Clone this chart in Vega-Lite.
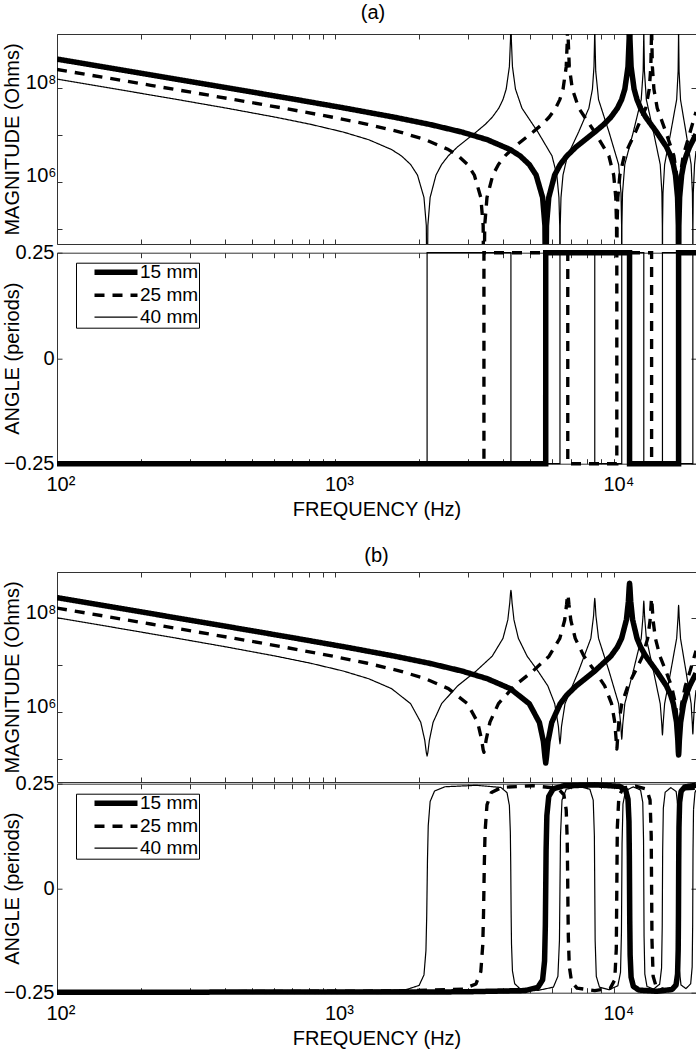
{
"$schema":"https://vega.github.io/schema/vega-lite/v6.json",
"padding":{"left":1,"top":2,"right":0,"bottom":0},
"config":{
 "font":"Liberation Sans",
 "view":{"stroke":null},
 "axis":{"labelFont":"Liberation Sans","titleFont":"Liberation Sans","labelFontSize":20,"titleFontSize":20,"titleFontWeight":"normal","labelColor":"#000","titleColor":"#000","domainColor":"#333","tickColor":"#333","domainWidth":1,"tickWidth":1,"tickSize":-5,"grid":false,"labelFlush":false,"labelOverlap":false,"labelBound":false},
 "title":{"font":"Liberation Sans","fontSize":20,"fontWeight":"normal","color":"#000","anchor":"middle","frame":"group","baseline":"alphabetic"}
},
"datasets":{
"magA":[
{"f":100,"v":4.163e8,"L":"15 mm"},{"f":181.0,"v":2.298e8,"L":"15 mm"},{"f":362.0,"v":1.146e8,"L":"15 mm"},{"f":724.0,"v":5.673e7,"L":"15 mm"},{"f":1086.1,"v":3.717e7,"L":"15 mm"},{"f":1629.1,"v":2.381e7,"L":"15 mm"},{"f":2172.1,"v":1.681e7,"L":"15 mm"},{"f":2843.3,"v":1.150e7,"L":"15 mm"},{"f":3511.6,"v":7.880e6,"L":"15 mm"},{"f":4238.6,"v":4.862e6,"L":"15 mm"},{"f":4600.6,"v":3.558e6,"L":"15 mm"},{"f":4962.6,"v":2.332e6,"L":"15 mm"},{"f":5252.2,"v":1.387e6,"L":"15 mm"},{"f":5541.8,"v":4.603e5,"L":"15 mm"},{"f":5650.4,"v":1.150e5,"L":"15 mm"},{"f":5686.7,"v":1e3,"L":"15 mm"},{"f":5722.9,"v":1.150e5,"L":"15 mm"},{"f":5831.5,"v":4.603e5,"L":"15 mm"},{"f":6121.1,"v":1.387e6,"L":"15 mm"},{"f":6410.7,"v":2.332e6,"L":"15 mm"},{"f":6772.7,"v":3.558e6,"L":"15 mm"},{"f":7315.7,"v":5.556e6,"L":"15 mm"},{"f":8530.0,"v":1.150e7,"L":"15 mm"},{"f":9201.2,"v":1.681e7,"L":"15 mm"},{"f":9744.2,"v":2.381e7,"L":"15 mm"},{"f":10287.3,"v":3.717e7,"L":"15 mm"},{"f":10649.3,"v":5.673e7,"L":"15 mm"},{"f":10938.9,"v":9.537e7,"L":"15 mm"},{"f":11228.5,"v":2.873e8,"L":"15 mm"},{"f":11337.1,"v":1.150e9,"L":"15 mm"},{"f":11373.3,"v":1e11,"L":"15 mm"},{"f":11409.5,"v":1.150e9,"L":"15 mm"},{"f":11518.1,"v":2.873e8,"L":"15 mm"},{"f":11807.7,"v":9.537e7,"L":"15 mm"},{"f":12097.3,"v":5.673e7,"L":"15 mm"},{"f":12459.3,"v":3.717e7,"L":"15 mm"},{"f":13002.4,"v":2.381e7,"L":"15 mm"},{"f":14216.5,"v":1.150e7,"L":"15 mm"},{"f":15430.7,"v":5.556e6,"L":"15 mm"},{"f":15973.7,"v":3.558e6,"L":"15 mm"},{"f":16335.7,"v":2.332e6,"L":"15 mm"},{"f":16625.4,"v":1.387e6,"L":"15 mm"},{"f":16915.0,"v":4.603e5,"L":"15 mm"},{"f":17023.6,"v":1.150e5,"L":"15 mm"},{"f":17059.8,"v":1e3,"L":"15 mm"},{"f":17096.0,"v":1.150e5,"L":"15 mm"},{"f":17204.6,"v":4.603e5,"L":"15 mm"},{"f":17494.2,"v":1.387e6,"L":"15 mm"},{"f":17783.9,"v":2.332e6,"L":"15 mm"},{"f":18145.9,"v":3.558e6,"L":"15 mm"},{"f":18688.9,"v":5.556e6,"L":"15 mm"},{"f":19700,"v":1.028e7,"L":"15 mm"},
{"f":100,"v":2.496e8,"L":"25 mm"},{"f":217.2,"v":1.146e8,"L":"25 mm"},{"f":434.4,"v":5.673e7,"L":"25 mm"},{"f":651.6,"v":3.717e7,"L":"25 mm"},{"f":977.4,"v":2.381e7,"L":"25 mm"},{"f":1303.3,"v":1.681e7,"L":"25 mm"},{"f":1706.0,"v":1.150e7,"L":"25 mm"},{"f":2107.0,"v":7.880e6,"L":"25 mm"},{"f":2543.1,"v":4.862e6,"L":"25 mm"},{"f":2760.3,"v":3.558e6,"L":"25 mm"},{"f":2977.5,"v":2.332e6,"L":"25 mm"},{"f":3151.3,"v":1.387e6,"L":"25 mm"},{"f":3325.1,"v":4.603e5,"L":"25 mm"},{"f":3390.3,"v":1.150e5,"L":"25 mm"},{"f":3412.0,"v":1e3,"L":"25 mm"},{"f":3433.7,"v":1.150e5,"L":"25 mm"},{"f":3498.9,"v":4.603e5,"L":"25 mm"},{"f":3672.6,"v":1.387e6,"L":"25 mm"},{"f":3846.4,"v":2.332e6,"L":"25 mm"},{"f":4063.6,"v":3.558e6,"L":"25 mm"},{"f":4389.4,"v":5.556e6,"L":"25 mm"},{"f":5118.0,"v":1.150e7,"L":"25 mm"},{"f":5520.7,"v":1.681e7,"L":"25 mm"},{"f":5846.5,"v":2.381e7,"L":"25 mm"},{"f":6172.3,"v":3.717e7,"L":"25 mm"},{"f":6389.5,"v":5.673e7,"L":"25 mm"},{"f":6563.3,"v":9.537e7,"L":"25 mm"},{"f":6737.1,"v":2.873e8,"L":"25 mm"},{"f":6802.2,"v":1.150e9,"L":"25 mm"},{"f":6824.0,"v":1e11,"L":"25 mm"},{"f":6845.6,"v":1.150e9,"L":"25 mm"},{"f":6910.8,"v":2.873e8,"L":"25 mm"},{"f":7084.6,"v":9.537e7,"L":"25 mm"},{"f":7475.6,"v":3.717e7,"L":"25 mm"},{"f":8530.0,"v":1.150e7,"L":"25 mm"},{"f":9584.4,"v":3.558e6,"L":"25 mm"},{"f":9975.3,"v":1.387e6,"L":"25 mm"},{"f":10149.1,"v":4.603e5,"L":"25 mm"},{"f":10214.3,"v":1.150e5,"L":"25 mm"},{"f":10236.0,"v":1e3,"L":"25 mm"},{"f":10257.5,"v":1.150e5,"L":"25 mm"},{"f":10322.7,"v":4.603e5,"L":"25 mm"},{"f":10496.5,"v":1.387e6,"L":"25 mm"},{"f":10887.5,"v":3.558e6,"L":"25 mm"},{"f":11941.8,"v":1.150e7,"L":"25 mm"},{"f":12996.1,"v":3.717e7,"L":"25 mm"},{"f":13387.1,"v":9.537e7,"L":"25 mm"},{"f":13560.9,"v":2.873e8,"L":"25 mm"},{"f":13626.0,"v":1.150e9,"L":"25 mm"},{"f":13647.7,"v":1e11,"L":"25 mm"},{"f":13669.5,"v":1.150e9,"L":"25 mm"},{"f":13734.6,"v":2.873e8,"L":"25 mm"},{"f":13908.4,"v":9.537e7,"L":"25 mm"},{"f":14299.4,"v":3.717e7,"L":"25 mm"},{"f":15353.7,"v":1.150e7,"L":"25 mm"},{"f":16408.0,"v":3.558e6,"L":"25 mm"},{"f":16799.0,"v":1.387e6,"L":"25 mm"},{"f":16972.8,"v":4.603e5,"L":"25 mm"},{"f":17037.9,"v":1.150e5,"L":"25 mm"},{"f":17059.7,"v":1e3,"L":"25 mm"},{"f":17081.6,"v":1.150e5,"L":"25 mm"},{"f":17146.7,"v":4.603e5,"L":"25 mm"},{"f":17320.5,"v":1.387e6,"L":"25 mm"},{"f":17711.5,"v":3.558e6,"L":"25 mm"},{"f":18765.8,"v":1.150e7,"L":"25 mm"},{"f":19700,"v":3.099e7,"L":"25 mm"},
{"f":100,"v":1.558e8,"L":"40 mm"},{"f":135.8,"v":1.146e8,"L":"40 mm"},{"f":271.5,"v":5.673e7,"L":"40 mm"},{"f":407.3,"v":3.717e7,"L":"40 mm"},{"f":610.9,"v":2.381e7,"L":"40 mm"},{"f":814.6,"v":1.681e7,"L":"40 mm"},{"f":1066.3,"v":1.150e7,"L":"40 mm"},{"f":1316.9,"v":7.880e6,"L":"40 mm"},{"f":1589.5,"v":4.862e6,"L":"40 mm"},{"f":1725.2,"v":3.558e6,"L":"40 mm"},{"f":1861.0,"v":2.332e6,"L":"40 mm"},{"f":1969.6,"v":1.387e6,"L":"40 mm"},{"f":2078.2,"v":4.603e5,"L":"40 mm"},{"f":2118.9,"v":1.150e5,"L":"40 mm"},{"f":2132.5,"v":1e3,"L":"40 mm"},{"f":2146.1,"v":1.150e5,"L":"40 mm"},{"f":2186.8,"v":4.603e5,"L":"40 mm"},{"f":2295.4,"v":1.387e6,"L":"40 mm"},{"f":2404.0,"v":2.332e6,"L":"40 mm"},{"f":2539.8,"v":3.558e6,"L":"40 mm"},{"f":2743.4,"v":5.556e6,"L":"40 mm"},{"f":3198.8,"v":1.150e7,"L":"40 mm"},{"f":3450.5,"v":1.681e7,"L":"40 mm"},{"f":3654.1,"v":2.381e7,"L":"40 mm"},{"f":3857.8,"v":3.717e7,"L":"40 mm"},{"f":3993.5,"v":5.673e7,"L":"40 mm"},{"f":4102.1,"v":9.537e7,"L":"40 mm"},{"f":4210.7,"v":2.873e8,"L":"40 mm"},{"f":4251.5,"v":1.150e9,"L":"40 mm"},{"f":4265.0,"v":1e11,"L":"40 mm"},{"f":4278.6,"v":1.150e9,"L":"40 mm"},{"f":4319.3,"v":2.873e8,"L":"40 mm"},{"f":4427.9,"v":9.537e7,"L":"40 mm"},{"f":4672.3,"v":3.717e7,"L":"40 mm"},{"f":5331.3,"v":1.150e7,"L":"40 mm"},{"f":5990.3,"v":3.558e6,"L":"40 mm"},{"f":6234.6,"v":1.387e6,"L":"40 mm"},{"f":6343.2,"v":4.603e5,"L":"40 mm"},{"f":6384.0,"v":1.150e5,"L":"40 mm"},{"f":6397.5,"v":1e3,"L":"40 mm"},{"f":6411.1,"v":1.150e5,"L":"40 mm"},{"f":6451.9,"v":4.603e5,"L":"40 mm"},{"f":6560.5,"v":1.387e6,"L":"40 mm"},{"f":6804.8,"v":3.558e6,"L":"40 mm"},{"f":7463.8,"v":1.150e7,"L":"40 mm"},{"f":8122.8,"v":3.717e7,"L":"40 mm"},{"f":8367.2,"v":9.537e7,"L":"40 mm"},{"f":8475.8,"v":2.873e8,"L":"40 mm"},{"f":8516.5,"v":1.150e9,"L":"40 mm"},{"f":8530.1,"v":1e11,"L":"40 mm"},{"f":8543.7,"v":1.150e9,"L":"40 mm"},{"f":8598.0,"v":2.298e8,"L":"40 mm"},{"f":8801.6,"v":5.673e7,"L":"40 mm"},{"f":9596.3,"v":1.150e7,"L":"40 mm"},{"f":10391.1,"v":2.332e6,"L":"40 mm"},{"f":10594.7,"v":5.756e5,"L":"40 mm"},{"f":10649.0,"v":1.150e5,"L":"40 mm"},{"f":10662.6,"v":1e3,"L":"40 mm"},{"f":10676.2,"v":1.150e5,"L":"40 mm"},{"f":10730.5,"v":5.756e5,"L":"40 mm"},{"f":10934.1,"v":2.332e6,"L":"40 mm"},{"f":11728.9,"v":1.150e7,"L":"40 mm"},{"f":12523.6,"v":5.673e7,"L":"40 mm"},{"f":12727.2,"v":2.298e8,"L":"40 mm"},{"f":12781.5,"v":1.150e9,"L":"40 mm"},{"f":12795.1,"v":1e11,"L":"40 mm"},{"f":12808.7,"v":1.150e9,"L":"40 mm"},{"f":12863.0,"v":2.298e8,"L":"40 mm"},{"f":13066.6,"v":5.673e7,"L":"40 mm"},{"f":13861.4,"v":1.150e7,"L":"40 mm"},{"f":14656.1,"v":2.332e6,"L":"40 mm"},{"f":14859.8,"v":5.756e5,"L":"40 mm"},{"f":14914.1,"v":1.150e5,"L":"40 mm"},{"f":14927.6,"v":1e3,"L":"40 mm"},{"f":14941.2,"v":1.150e5,"L":"40 mm"},{"f":14995.5,"v":5.756e5,"L":"40 mm"},{"f":15199.1,"v":2.332e6,"L":"40 mm"},{"f":15993.9,"v":1.150e7,"L":"40 mm"},{"f":16788.6,"v":5.673e7,"L":"40 mm"},{"f":16992.3,"v":2.298e8,"L":"40 mm"},{"f":17046.6,"v":1.150e9,"L":"40 mm"},{"f":17060.1,"v":1e11,"L":"40 mm"},{"f":17073.7,"v":1.150e9,"L":"40 mm"},{"f":17128.0,"v":2.298e8,"L":"40 mm"},{"f":17331.7,"v":5.673e7,"L":"40 mm"},{"f":18126.4,"v":1.150e7,"L":"40 mm"},{"f":18921.1,"v":2.332e6,"L":"40 mm"},{"f":19124.8,"v":5.756e5,"L":"40 mm"},{"f":19179.1,"v":1.150e5,"L":"40 mm"},{"f":19192.7,"v":1e3,"L":"40 mm"},{"f":19206.2,"v":1.150e5,"L":"40 mm"},{"f":19260.5,"v":5.756e5,"L":"40 mm"},{"f":19464.1,"v":2.332e6,"L":"40 mm"},{"f":19700,"v":4.511e6,"L":"40 mm"}
],
"angA":[
{"f":100,"v":-0.25,"L":"15 mm"},{"f":5686.7,"v":-0.25,"L":"15 mm"},{"f":5686.8,"v":0.25,"L":"15 mm"},{"f":11373.3,"v":0.25,"L":"15 mm"},{"f":11373.4,"v":-0.25,"L":"15 mm"},{"f":17059.8,"v":-0.25,"L":"15 mm"},{"f":17059.9,"v":0.25,"L":"15 mm"},{"f":19700,"v":0.25,"L":"15 mm"},
{"f":100,"v":-0.25,"L":"25 mm"},{"f":3412.0,"v":-0.25,"L":"25 mm"},{"f":3412.1,"v":0.25,"L":"25 mm"},{"f":6824.0,"v":0.25,"L":"25 mm"},{"f":6824.1,"v":-0.25,"L":"25 mm"},{"f":10236.0,"v":-0.25,"L":"25 mm"},{"f":10236.1,"v":0.25,"L":"25 mm"},{"f":13647.7,"v":0.25,"L":"25 mm"},{"f":13647.8,"v":-0.25,"L":"25 mm"},{"f":17059.7,"v":-0.25,"L":"25 mm"},{"f":17059.8,"v":0.25,"L":"25 mm"},{"f":19700,"v":0.25,"L":"25 mm"},
{"f":100,"v":-0.25,"L":"40 mm"},{"f":2132.5,"v":-0.25,"L":"40 mm"},{"f":2132.6,"v":0.25,"L":"40 mm"},{"f":4265.0,"v":0.25,"L":"40 mm"},{"f":4265.1,"v":-0.25,"L":"40 mm"},{"f":6397.5,"v":-0.25,"L":"40 mm"},{"f":6397.6,"v":0.25,"L":"40 mm"},{"f":8530.1,"v":0.25,"L":"40 mm"},{"f":8530.2,"v":-0.25,"L":"40 mm"},{"f":10662.6,"v":-0.25,"L":"40 mm"},{"f":10662.7,"v":0.25,"L":"40 mm"},{"f":12795.1,"v":0.25,"L":"40 mm"},{"f":12795.2,"v":-0.25,"L":"40 mm"},{"f":14927.6,"v":-0.25,"L":"40 mm"},{"f":14927.7,"v":0.25,"L":"40 mm"},{"f":17060.1,"v":0.25,"L":"40 mm"},{"f":17060.2,"v":-0.25,"L":"40 mm"},{"f":19192.7,"v":-0.25,"L":"40 mm"},{"f":19192.8,"v":0.25,"L":"40 mm"},{"f":19700,"v":0.25,"L":"40 mm"}
],
"magB":[
{"f":100,"v":2.715e8,"L":"15 mm"},{"f":181.0,"v":1.498e8,"L":"15 mm"},{"f":362.0,"v":7.474e7,"L":"15 mm"},{"f":724.0,"v":3.700e7,"L":"15 mm"},{"f":1086.1,"v":2.424e7,"L":"15 mm"},{"f":1629.1,"v":1.552e7,"L":"15 mm"},{"f":2172.1,"v":1.096e7,"L":"15 mm"},{"f":2843.3,"v":7.499e6,"L":"15 mm"},{"f":3511.6,"v":5.138e6,"L":"15 mm"},{"f":4238.6,"v":3.170e6,"L":"15 mm"},{"f":4962.6,"v":1.520e6,"L":"15 mm"},{"f":5397.0,"v":6.053e5,"L":"15 mm"},{"f":5578.0,"v":2.399e5,"L":"15 mm"},{"f":5650.4,"v":1.119e5,"L":"15 mm"},{"f":5686.7,"v":8.318e4,"L":"15 mm"},{"f":5722.9,"v":1.119e5,"L":"15 mm"},{"f":5795.3,"v":2.399e5,"L":"15 mm"},{"f":5976.3,"v":6.053e5,"L":"15 mm"},{"f":6410.7,"v":1.520e6,"L":"15 mm"},{"f":6772.7,"v":2.320e6,"L":"15 mm"},{"f":7315.7,"v":3.622e6,"L":"15 mm"},{"f":8530.0,"v":7.499e6,"L":"15 mm"},{"f":9744.2,"v":1.552e7,"L":"15 mm"},{"f":10287.3,"v":2.424e7,"L":"15 mm"},{"f":10649.3,"v":3.700e7,"L":"15 mm"},{"f":11083.7,"v":9.247e7,"L":"15 mm"},{"f":11264.7,"v":2.275e8,"L":"15 mm"},{"f":11337.1,"v":4.436e8,"L":"15 mm"},{"f":11373.3,"v":5.495e8,"L":"15 mm"},{"f":11409.5,"v":4.436e8,"L":"15 mm"},{"f":11481.9,"v":2.275e8,"L":"15 mm"},{"f":11662.9,"v":9.247e7,"L":"15 mm"},{"f":12097.3,"v":3.700e7,"L":"15 mm"},{"f":12459.3,"v":2.424e7,"L":"15 mm"},{"f":13002.4,"v":1.552e7,"L":"15 mm"},{"f":14216.5,"v":7.499e6,"L":"15 mm"},{"f":15430.7,"v":3.622e6,"L":"15 mm"},{"f":15973.7,"v":2.320e6,"L":"15 mm"},{"f":16335.7,"v":1.520e6,"L":"15 mm"},{"f":16770.2,"v":6.124e5,"L":"15 mm"},{"f":16951.2,"v":2.564e5,"L":"15 mm"},{"f":17023.6,"v":1.442e5,"L":"15 mm"},{"f":17059.8,"v":1.230e5,"L":"15 mm"},{"f":17096.0,"v":1.442e5,"L":"15 mm"},{"f":17168.4,"v":2.564e5,"L":"15 mm"},{"f":17349.4,"v":6.124e5,"L":"15 mm"},{"f":17783.9,"v":1.520e6,"L":"15 mm"},{"f":18145.9,"v":2.320e6,"L":"15 mm"},{"f":18688.9,"v":3.622e6,"L":"15 mm"},{"f":19700,"v":6.703e6,"L":"15 mm"},
{"f":100,"v":1.628e8,"L":"25 mm"},{"f":217.2,"v":7.474e7,"L":"25 mm"},{"f":434.4,"v":3.700e7,"L":"25 mm"},{"f":651.6,"v":2.424e7,"L":"25 mm"},{"f":977.4,"v":1.552e7,"L":"25 mm"},{"f":1303.3,"v":1.096e7,"L":"25 mm"},{"f":1706.0,"v":7.499e6,"L":"25 mm"},{"f":2107.0,"v":5.138e6,"L":"25 mm"},{"f":2543.1,"v":3.170e6,"L":"25 mm"},{"f":2977.5,"v":1.520e6,"L":"25 mm"},{"f":3238.2,"v":6.166e5,"L":"25 mm"},{"f":3346.8,"v":2.655e5,"L":"25 mm"},{"f":3390.3,"v":1.596e5,"L":"25 mm"},{"f":3412.0,"v":1.409e5,"L":"25 mm"},{"f":3433.7,"v":1.596e5,"L":"25 mm"},{"f":3477.1,"v":2.655e5,"L":"25 mm"},{"f":3585.7,"v":6.166e5,"L":"25 mm"},{"f":3846.4,"v":1.520e6,"L":"25 mm"},{"f":4389.4,"v":3.622e6,"L":"25 mm"},{"f":5118.0,"v":7.499e6,"L":"25 mm"},{"f":5846.5,"v":1.552e7,"L":"25 mm"},{"f":6389.5,"v":3.700e7,"L":"25 mm"},{"f":6650.2,"v":8.995e7,"L":"25 mm"},{"f":6758.8,"v":1.963e8,"L":"25 mm"},{"f":6802.2,"v":2.917e8,"L":"25 mm"},{"f":6824.0,"v":3.162e8,"L":"25 mm"},{"f":6845.6,"v":2.917e8,"L":"25 mm"},{"f":6889.1,"v":1.963e8,"L":"25 mm"},{"f":6997.7,"v":8.995e7,"L":"25 mm"},{"f":7258.3,"v":3.700e7,"L":"25 mm"},{"f":7801.4,"v":1.552e7,"L":"25 mm"},{"f":8530.0,"v":7.499e6,"L":"25 mm"},{"f":9258.5,"v":3.622e6,"L":"25 mm"},{"f":9801.5,"v":1.520e6,"L":"25 mm"},{"f":10062.2,"v":6.223e5,"L":"25 mm"},{"f":10170.8,"v":2.793e5,"L":"25 mm"},{"f":10214.3,"v":1.820e5,"L":"25 mm"},{"f":10236.0,"v":1.656e5,"L":"25 mm"},{"f":10257.5,"v":1.820e5,"L":"25 mm"},{"f":10301.0,"v":2.793e5,"L":"25 mm"},{"f":10409.6,"v":6.223e5,"L":"25 mm"},{"f":10670.2,"v":1.520e6,"L":"25 mm"},{"f":11213.3,"v":3.622e6,"L":"25 mm"},{"f":11941.8,"v":7.499e6,"L":"25 mm"},{"f":12670.3,"v":1.552e7,"L":"25 mm"},{"f":13213.3,"v":3.700e7,"L":"25 mm"},{"f":13474.0,"v":8.831e7,"L":"25 mm"},{"f":13582.6,"v":1.811e8,"L":"25 mm"},{"f":13626.0,"v":2.483e8,"L":"25 mm"},{"f":13647.7,"v":2.630e8,"L":"25 mm"},{"f":13669.5,"v":2.483e8,"L":"25 mm"},{"f":13712.9,"v":1.811e8,"L":"25 mm"},{"f":13821.5,"v":8.831e7,"L":"25 mm"},{"f":14082.2,"v":3.700e7,"L":"25 mm"},{"f":14625.2,"v":1.552e7,"L":"25 mm"},{"f":15353.7,"v":7.499e6,"L":"25 mm"},{"f":16082.3,"v":3.622e6,"L":"25 mm"},{"f":16625.3,"v":1.520e6,"L":"25 mm"},{"f":16886.0,"v":6.324e5,"L":"25 mm"},{"f":16994.6,"v":3.006e5,"L":"25 mm"},{"f":17038.0,"v":2.133e5,"L":"25 mm"},{"f":17059.7,"v":1.995e5,"L":"25 mm"},{"f":17081.6,"v":2.133e5,"L":"25 mm"},{"f":17125.0,"v":3.006e5,"L":"25 mm"},{"f":17233.6,"v":6.324e5,"L":"25 mm"},{"f":17494.3,"v":1.520e6,"L":"25 mm"},{"f":18037.3,"v":3.622e6,"L":"25 mm"},{"f":18765.8,"v":7.499e6,"L":"25 mm"},{"f":19700,"v":2.021e7,"L":"25 mm"},
{"f":100,"v":1.016e8,"L":"40 mm"},{"f":135.8,"v":7.474e7,"L":"40 mm"},{"f":271.5,"v":3.700e7,"L":"40 mm"},{"f":407.3,"v":2.424e7,"L":"40 mm"},{"f":610.9,"v":1.552e7,"L":"40 mm"},{"f":814.6,"v":1.096e7,"L":"40 mm"},{"f":1066.3,"v":7.499e6,"L":"40 mm"},{"f":1316.9,"v":5.138e6,"L":"40 mm"},{"f":1589.5,"v":3.170e6,"L":"40 mm"},{"f":1861.0,"v":1.520e6,"L":"40 mm"},{"f":2023.9,"v":6.109e5,"L":"40 mm"},{"f":2091.8,"v":2.541e5,"L":"40 mm"},{"f":2118.9,"v":1.393e5,"L":"40 mm"},{"f":2132.5,"v":1.175e5,"L":"40 mm"},{"f":2146.1,"v":1.393e5,"L":"40 mm"},{"f":2173.3,"v":2.541e5,"L":"40 mm"},{"f":2241.1,"v":6.109e5,"L":"40 mm"},{"f":2404.0,"v":1.520e6,"L":"40 mm"},{"f":2743.4,"v":3.622e6,"L":"40 mm"},{"f":3198.8,"v":7.499e6,"L":"40 mm"},{"f":3654.1,"v":1.552e7,"L":"40 mm"},{"f":3993.5,"v":3.700e7,"L":"40 mm"},{"f":4156.4,"v":9.120e7,"L":"40 mm"},{"f":4224.3,"v":2.104e8,"L":"40 mm"},{"f":4251.5,"v":3.451e8,"L":"40 mm"},{"f":4265.0,"v":3.890e8,"L":"40 mm"},{"f":4278.6,"v":3.451e8,"L":"40 mm"},{"f":4305.8,"v":2.104e8,"L":"40 mm"},{"f":4373.6,"v":9.120e7,"L":"40 mm"},{"f":4536.6,"v":3.700e7,"L":"40 mm"},{"f":4876.0,"v":1.552e7,"L":"40 mm"},{"f":5331.3,"v":7.499e6,"L":"40 mm"},{"f":5786.6,"v":3.622e6,"L":"40 mm"},{"f":6126.0,"v":1.520e6,"L":"40 mm"},{"f":6316.1,"v":4.977e5,"L":"40 mm"},{"f":6370.4,"v":2.612e5,"L":"40 mm"},{"f":6397.5,"v":2.138e5,"L":"40 mm"},{"f":6424.7,"v":2.612e5,"L":"40 mm"},{"f":6479.0,"v":4.977e5,"L":"40 mm"},{"f":6669.1,"v":1.520e6,"L":"40 mm"},{"f":7463.8,"v":7.499e6,"L":"40 mm"},{"f":8258.6,"v":3.700e7,"L":"40 mm"},{"f":8448.6,"v":1.130e8,"L":"40 mm"},{"f":8502.9,"v":2.153e8,"L":"40 mm"},{"f":8530.1,"v":2.630e8,"L":"40 mm"},{"f":8557.2,"v":2.153e8,"L":"40 mm"},{"f":8611.5,"v":1.130e8,"L":"40 mm"},{"f":8801.6,"v":3.700e7,"L":"40 mm"},{"f":9596.3,"v":7.499e6,"L":"40 mm"},{"f":10391.1,"v":1.520e6,"L":"40 mm"},{"f":10581.2,"v":5.248e5,"L":"40 mm"},{"f":10635.5,"v":3.083e5,"L":"40 mm"},{"f":10662.6,"v":2.692e5,"L":"40 mm"},{"f":10689.7,"v":3.083e5,"L":"40 mm"},{"f":10744.0,"v":5.248e5,"L":"40 mm"},{"f":10934.1,"v":1.520e6,"L":"40 mm"},{"f":11728.9,"v":7.499e6,"L":"40 mm"},{"f":12523.6,"v":3.700e7,"L":"40 mm"},{"f":12713.7,"v":1.096e8,"L":"40 mm"},{"f":12768.0,"v":1.959e8,"L":"40 mm"},{"f":12795.1,"v":2.296e8,"L":"40 mm"},{"f":12822.3,"v":1.959e8,"L":"40 mm"},{"f":12876.6,"v":1.096e8,"L":"40 mm"},{"f":13066.6,"v":3.700e7,"L":"40 mm"},{"f":13861.4,"v":7.499e6,"L":"40 mm"},{"f":14656.1,"v":1.520e6,"L":"40 mm"},{"f":14846.2,"v":5.585e5,"L":"40 mm"},{"f":14900.5,"v":3.639e5,"L":"40 mm"},{"f":14927.6,"v":3.311e5,"L":"40 mm"},{"f":14954.8,"v":3.639e5,"L":"40 mm"},{"f":15009.1,"v":5.585e5,"L":"40 mm"},{"f":15199.1,"v":1.520e6,"L":"40 mm"},{"f":15993.9,"v":7.499e6,"L":"40 mm"},{"f":16788.6,"v":3.700e7,"L":"40 mm"},{"f":16978.7,"v":1.038e8,"L":"40 mm"},{"f":17033.0,"v":1.667e8,"L":"40 mm"},{"f":17060.1,"v":1.862e8,"L":"40 mm"},{"f":17087.3,"v":1.667e8,"L":"40 mm"},{"f":17141.6,"v":1.038e8,"L":"40 mm"},{"f":17331.7,"v":3.700e7,"L":"40 mm"},{"f":18126.4,"v":7.499e6,"L":"40 mm"},{"f":18921.1,"v":1.520e6,"L":"40 mm"},{"f":19111.2,"v":5.675e5,"L":"40 mm"},{"f":19165.5,"v":3.776e5,"L":"40 mm"},{"f":19192.7,"v":3.467e5,"L":"40 mm"},{"f":19219.8,"v":3.776e5,"L":"40 mm"},{"f":19274.1,"v":5.675e5,"L":"40 mm"},{"f":19464.1,"v":1.520e6,"L":"40 mm"},{"f":19700,"v":2.942e6,"L":"40 mm"}
],
"angB":[
{"f":100,"v":-0.249,"L":"15 mm"},{"f":2843.3,"v":-0.248,"L":"15 mm"},{"f":4781.6,"v":-0.2449,"L":"15 mm"},{"f":5324.6,"v":-0.2376,"L":"15 mm"},{"f":5541.8,"v":-0.2195,"L":"15 mm"},{"f":5632.3,"v":-0.1741,"L":"15 mm"},{"f":5668.5,"v":-0.0911,"L":"15 mm"},{"f":5686.7,"v":0,"L":"15 mm"},{"f":5704.7,"v":0.0911,"L":"15 mm"},{"f":5741.0,"v":0.1741,"L":"15 mm"},{"f":5831.5,"v":0.2195,"L":"15 mm"},{"f":6048.7,"v":0.2376,"L":"15 mm"},{"f":6591.7,"v":0.2449,"L":"15 mm"},{"f":8530.0,"v":0.2472,"L":"15 mm"},{"f":10468.3,"v":0.2437,"L":"15 mm"},{"f":11011.3,"v":0.2348,"L":"15 mm"},{"f":11228.5,"v":0.2127,"L":"15 mm"},{"f":11319.0,"v":0.1598,"L":"15 mm"},{"f":11355.2,"v":0.0767,"L":"15 mm"},{"f":11373.3,"v":0,"L":"15 mm"},{"f":11391.4,"v":-0.0767,"L":"15 mm"},{"f":11427.6,"v":-0.1598,"L":"15 mm"},{"f":11518.1,"v":-0.2127,"L":"15 mm"},{"f":11735.3,"v":-0.2348,"L":"15 mm"},{"f":12278.4,"v":-0.2437,"L":"15 mm"},{"f":14216.5,"v":-0.2466,"L":"15 mm"},{"f":16154.7,"v":-0.2424,"L":"15 mm"},{"f":16697.7,"v":-0.2317,"L":"15 mm"},{"f":16915.0,"v":-0.2054,"L":"15 mm"},{"f":17005.5,"v":-0.1459,"L":"15 mm"},{"f":17041.7,"v":-0.0653,"L":"15 mm"},{"f":17059.8,"v":0,"L":"15 mm"},{"f":17077.9,"v":0.0653,"L":"15 mm"},{"f":17114.1,"v":0.1459,"L":"15 mm"},{"f":17204.6,"v":0.2054,"L":"15 mm"},{"f":17421.9,"v":0.2317,"L":"15 mm"},{"f":17964.9,"v":0.2424,"L":"15 mm"},{"f":19700,"v":0.2463,"L":"15 mm"},
{"f":100,"v":-0.249,"L":"25 mm"},{"f":1706.0,"v":-0.2458,"L":"25 mm"},{"f":2868.9,"v":-0.2413,"L":"25 mm"},{"f":3194.8,"v":-0.2291,"L":"25 mm"},{"f":3325.1,"v":-0.1994,"L":"25 mm"},{"f":3379.4,"v":-0.1354,"L":"25 mm"},{"f":3401.1,"v":-0.0579,"L":"25 mm"},{"f":3412.0,"v":0,"L":"25 mm"},{"f":3422.8,"v":0.0579,"L":"25 mm"},{"f":3444.6,"v":0.1354,"L":"25 mm"},{"f":3498.9,"v":0.1994,"L":"25 mm"},{"f":3629.2,"v":0.2291,"L":"25 mm"},{"f":3955.0,"v":0.2413,"L":"25 mm"},{"f":5118.0,"v":0.2452,"L":"25 mm"},{"f":6280.9,"v":0.2390,"L":"25 mm"},{"f":6606.8,"v":0.2236,"L":"25 mm"},{"f":6737.1,"v":0.1873,"L":"25 mm"},{"f":6791.4,"v":0.1169,"L":"25 mm"},{"f":6813.1,"v":0.0465,"L":"25 mm"},{"f":6824.0,"v":0,"L":"25 mm"},{"f":6834.8,"v":-0.0465,"L":"25 mm"},{"f":6856.5,"v":-0.1169,"L":"25 mm"},{"f":6910.8,"v":-0.1873,"L":"25 mm"},{"f":7041.2,"v":-0.2236,"L":"25 mm"},{"f":7367.0,"v":-0.2390,"L":"25 mm"},{"f":8530.0,"v":-0.2450,"L":"25 mm"},{"f":9692.9,"v":-0.2397,"L":"25 mm"},{"f":10062.2,"v":-0.2194,"L":"25 mm"},{"f":10192.5,"v":-0.1450,"L":"25 mm"},{"f":10236.0,"v":0,"L":"25 mm"},{"f":10279.4,"v":0.1450,"L":"25 mm"},{"f":10409.6,"v":0.2194,"L":"25 mm"},{"f":10778.9,"v":0.2397,"L":"25 mm"},{"f":11941.8,"v":0.2440,"L":"25 mm"},{"f":13104.7,"v":0.2368,"L":"25 mm"},{"f":13474.0,"v":0.2108,"L":"25 mm"},{"f":13604.3,"v":0.125,"L":"25 mm"},{"f":13647.7,"v":0,"L":"25 mm"},{"f":13691.2,"v":-0.125,"L":"25 mm"},{"f":13821.5,"v":-0.2108,"L":"25 mm"},{"f":14190.8,"v":-0.2368,"L":"25 mm"},{"f":15353.7,"v":-0.2440,"L":"25 mm"},{"f":16516.7,"v":-0.2377,"L":"25 mm"},{"f":16886.0,"v":-0.2135,"L":"25 mm"},{"f":17016.3,"v":-0.1308,"L":"25 mm"},{"f":17059.7,"v":0,"L":"25 mm"},{"f":17103.2,"v":0.1308,"L":"25 mm"},{"f":17233.6,"v":0.2135,"L":"25 mm"},{"f":17602.9,"v":0.2377,"L":"25 mm"},{"f":19700,"v":0.2390,"L":"25 mm"},
{"f":100,"v":-0.249,"L":"40 mm"},{"f":1066.3,"v":-0.2465,"L":"40 mm"},{"f":1793.1,"v":-0.2427,"L":"40 mm"},{"f":1996.8,"v":-0.2325,"L":"40 mm"},{"f":2078.2,"v":-0.2074,"L":"40 mm"},{"f":2112.2,"v":-0.1496,"L":"40 mm"},{"f":2125.7,"v":-0.0682,"L":"40 mm"},{"f":2132.5,"v":0,"L":"40 mm"},{"f":2139.3,"v":0.0682,"L":"40 mm"},{"f":2152.9,"v":0.1496,"L":"40 mm"},{"f":2186.8,"v":0.2074,"L":"40 mm"},{"f":2268.3,"v":0.2325,"L":"40 mm"},{"f":2471.9,"v":0.2427,"L":"40 mm"},{"f":3198.8,"v":0.2461,"L":"40 mm"},{"f":3925.6,"v":0.2411,"L":"40 mm"},{"f":4129.3,"v":0.2285,"L":"40 mm"},{"f":4210.7,"v":0.1981,"L":"40 mm"},{"f":4244.7,"v":0.1334,"L":"40 mm"},{"f":4258.2,"v":0.0565,"L":"40 mm"},{"f":4265.0,"v":0,"L":"40 mm"},{"f":4271.8,"v":-0.0565,"L":"40 mm"},{"f":4285.4,"v":-0.1334,"L":"40 mm"},{"f":4319.3,"v":-0.1981,"L":"40 mm"},{"f":4400.8,"v":-0.2285,"L":"40 mm"},{"f":4604.4,"v":-0.2411,"L":"40 mm"},{"f":5331.3,"v":-0.2445,"L":"40 mm"},{"f":6058.2,"v":-0.2368,"L":"40 mm"},{"f":6289.0,"v":-0.2108,"L":"40 mm"},{"f":6370.4,"v":-0.125,"L":"40 mm"},{"f":6397.5,"v":0,"L":"40 mm"},{"f":6424.7,"v":0.125,"L":"40 mm"},{"f":6506.1,"v":0.2108,"L":"40 mm"},{"f":6737.0,"v":0.2368,"L":"40 mm"},{"f":7463.8,"v":0.2436,"L":"40 mm"},{"f":8190.7,"v":0.2368,"L":"40 mm"},{"f":8421.5,"v":0.2108,"L":"40 mm"},{"f":8502.9,"v":0.125,"L":"40 mm"},{"f":8530.1,"v":0,"L":"40 mm"},{"f":8557.2,"v":-0.125,"L":"40 mm"},{"f":8638.7,"v":-0.2108,"L":"40 mm"},{"f":8869.5,"v":-0.2368,"L":"40 mm"},{"f":9596.3,"v":-0.2428,"L":"40 mm"},{"f":10323.2,"v":-0.2334,"L":"40 mm"},{"f":10554.0,"v":-0.2013,"L":"40 mm"},{"f":10635.5,"v":-0.1069,"L":"40 mm"},{"f":10662.6,"v":0,"L":"40 mm"},{"f":10689.7,"v":0.1069,"L":"40 mm"},{"f":10771.2,"v":0.2013,"L":"40 mm"},{"f":11002.0,"v":0.2334,"L":"40 mm"},{"f":11728.9,"v":0.2424,"L":"40 mm"},{"f":12455.7,"v":0.2349,"L":"40 mm"},{"f":12686.5,"v":0.2055,"L":"40 mm"},{"f":12768.0,"v":0.1142,"L":"40 mm"},{"f":12795.1,"v":0,"L":"40 mm"},{"f":12822.3,"v":-0.1142,"L":"40 mm"},{"f":12903.7,"v":-0.2055,"L":"40 mm"},{"f":13134.5,"v":-0.2349,"L":"40 mm"},{"f":13861.4,"v":-0.2415,"L":"40 mm"},{"f":14588.2,"v":-0.2296,"L":"40 mm"},{"f":14819.0,"v":-0.1910,"L":"40 mm"},{"f":14900.5,"v":-0.0913,"L":"40 mm"},{"f":14927.6,"v":0,"L":"40 mm"},{"f":14954.8,"v":0.0913,"L":"40 mm"},{"f":15036.2,"v":0.1910,"L":"40 mm"},{"f":15267.0,"v":0.2296,"L":"40 mm"},{"f":15993.9,"v":0.2406,"L":"40 mm"},{"f":16720.7,"v":0.2314,"L":"40 mm"},{"f":16951.5,"v":0.1959,"L":"40 mm"},{"f":17033.0,"v":0.0982,"L":"40 mm"},{"f":17060.1,"v":0,"L":"40 mm"},{"f":17087.3,"v":-0.0982,"L":"40 mm"},{"f":17168.7,"v":-0.1959,"L":"40 mm"},{"f":17399.5,"v":-0.2314,"L":"40 mm"},{"f":18126.4,"v":-0.2403,"L":"40 mm"},{"f":18853.3,"v":-0.2286,"L":"40 mm"},{"f":19084.1,"v":-0.1886,"L":"40 mm"},{"f":19165.5,"v":-0.0881,"L":"40 mm"},{"f":19192.7,"v":0,"L":"40 mm"},{"f":19219.8,"v":0.0881,"L":"40 mm"},{"f":19301.3,"v":0.1886,"L":"40 mm"},{"f":19532.1,"v":0.2286,"L":"40 mm"},{"f":19700,"v":0.2349,"L":"40 mm"}
]
},
"spacing":26,
"resolve":{"scale":{"strokeDash":"independent","strokeWidth":"independent"}},
"vconcat":[
{"bounds":"flush","spacing":8.7,"resolve":{"scale":{"strokeDash":"independent","strokeWidth":"independent"}},
 "vconcat":[
 {"width":639,"height":210,"title":{"text":"(a)","offset":11,"dx":-3.5},"data":{"name":"magA"},
  "layer":[
   {"mark":{"type":"line","clip":true,"color":"black","strokeJoin":"round"},
    "encoding":{
     "x":{"field":"f","type":"quantitative","scale":{"type":"log","domain":[100,19700],"nice":false},"axis":{"orient":"bottom","values":[100,200,300,400,500,600,700,800,900,1000,2000,3000,4000,5000,6000,7000,8000,9000,10000],"labels":false,"title":null}},
     "y":{"field":"v","type":"quantitative","scale":{"type":"log","domain":[46700,1430000000],"nice":false},"axis":{"orient":"left","values":[100000,1000000,10000000,100000000],"labelExpr":"datum.value == 1000000 ? '10⁶' : datum.value == 100000000 ? '10⁸' : ''","labelBaseline":"alphabetic","labelPadding":6,"title":"MAGNITUDE (Ohms)","titleX":-39,"titleBaseline":"alphabetic"}},
     "strokeDash":{"field":"L","type":"ordinal","scale":{"domain":["15 mm","25 mm","40 mm"],"range":[[1,0],[10,8],[1,0]]},"legend":null},
     "strokeWidth":{"field":"L","type":"ordinal","scale":{"domain":["15 mm","25 mm","40 mm"],"range":[5.5,1.2],"padding":0},"legend":null}
    }},
   {"mark":{"type":"point","opacity":0,"clip":true},
    "encoding":{
     "x":{"field":"f","type":"quantitative","axis":{"orient":"top","values":[100,200,300,400,500,600,700,800,900,1000,2000,3000,4000,5000,6000,7000,8000,9000,10000],"labels":false,"title":null}},
     "y":{"field":"v","type":"quantitative","axis":{"orient":"right","values":[100000,1000000,10000000,100000000],"labels":false,"title":null}}
    }}
  ],
  "resolve":{"axis":{"x":"independent","y":"independent"}}
 },
 {"width":639,"height":211,"data":{"name":"angA"},
  "layer":[
   {"mark":{"type":"line","color":"black","strokeJoin":"miter"},
    "encoding":{
     "x":{"field":"f","type":"quantitative","scale":{"type":"log","domain":[100,19700],"nice":false},"axis":{"orient":"bottom","values":[100,200,300,400,500,600,700,800,900,1000,2000,3000,4000,5000,6000,7000,8000,9000,10000],"labelExpr":"datum.value == 100 ? '10²' : datum.value == 1000 ? '10³' : datum.value == 10000 ? '10⁴' : ''","labelAlign":"left","labelOffset":-11,"labelBaseline":"alphabetic","labelPadding":32,"title":"FREQUENCY (Hz)","titleBaseline":"alphabetic","titleY":51.5}},
     "y":{"field":"v","type":"quantitative","scale":{"domain":[-0.25,0.25],"nice":false,"zero":false},"axis":{"orient":"left","values":[-0.25,0,0.25],"labelExpr":"datum.value > 0.1 ? '0.25' : datum.value < -0.1 ? '−0.25' : '0'","labelBaseline":"middle","labelPadding":8,"title":"ANGLE (periods)","titleX":-39,"titleBaseline":"alphabetic"}},
     "strokeDash":{"field":"L","type":"ordinal","scale":{"domain":["15 mm","25 mm","40 mm"],"range":[[1,0],[10,8],[1,0]]},"legend":{"orient":"none","legendX":19,"legendY":10,"title":null,"symbolType":"M-1,0M9,0H52","symbolSize":4,"labelOffset":45,"padding":0,"rowPadding":2,"labelFontSize":19,"labelFont":"Liberation Sans","labelColor":"#000","strokeColor":"#000","fillColor":"#fff","symbolStrokeColor":"#000","symbolFillColor":"transparent"}},
     "strokeWidth":{"field":"L","type":"ordinal","scale":{"domain":["15 mm","25 mm","40 mm"],"range":[5.5,1.2],"padding":0},"legend":{"orient":"none","legendX":19,"legendY":10,"title":null,"symbolType":"M-1,0M9,0H52","symbolSize":4,"labelOffset":45,"padding":0,"rowPadding":2,"labelFontSize":19,"labelFont":"Liberation Sans","labelColor":"#000","strokeColor":"#000","fillColor":"#fff","symbolStrokeColor":"#000","symbolFillColor":"transparent"}}
    }},
   {"mark":{"type":"point","opacity":0,"clip":true},
    "encoding":{
     "x":{"field":"f","type":"quantitative","axis":{"orient":"top","values":[100,200,300,400,500,600,700,800,900,1000,2000,3000,4000,5000,6000,7000,8000,9000,10000],"labels":false,"title":null}},
     "y":{"field":"v","type":"quantitative","axis":{"orient":"right","values":[-0.25,0,0.25],"labels":false,"title":null}}
    }}
  ],
  "resolve":{"axis":{"x":"independent","y":"independent"}}
 }
 ]},
{"bounds":"flush","spacing":1.7,"resolve":{"scale":{"strokeDash":"independent","strokeWidth":"independent"}},
 "vconcat":[
 {"width":639,"height":210,"title":{"text":"(b)","offset":5.3},"data":{"name":"magB"},
  "layer":[
   {"mark":{"type":"line","clip":true,"color":"black","strokeJoin":"round"},
    "encoding":{
     "x":{"field":"f","type":"quantitative","scale":{"type":"log","domain":[100,19700],"nice":false},"axis":{"orient":"bottom","values":[100,200,300,400,500,600,700,800,900,1000,2000,3000,4000,5000,6000,7000,8000,9000,10000],"labels":false,"title":null}},
     "y":{"field":"v","type":"quantitative","scale":{"type":"log","domain":[33000,950000000],"nice":false},"axis":{"orient":"left","values":[100000,1000000,10000000,100000000],"labelExpr":"datum.value == 1000000 ? '10⁶' : datum.value == 100000000 ? '10⁸' : ''","labelBaseline":"alphabetic","labelPadding":6,"title":"MAGNITUDE (Ohms)","titleX":-39,"titleBaseline":"alphabetic"}},
     "strokeDash":{"field":"L","type":"ordinal","scale":{"domain":["15 mm","25 mm","40 mm"],"range":[[1,0],[10,8],[1,0]]},"legend":null},
     "strokeWidth":{"field":"L","type":"ordinal","scale":{"domain":["15 mm","25 mm","40 mm"],"range":[5.5,1.2],"padding":0},"legend":null}
    }},
   {"mark":{"type":"point","opacity":0,"clip":true},
    "encoding":{
     "x":{"field":"f","type":"quantitative","axis":{"orient":"top","values":[100,200,300,400,500,600,700,800,900,1000,2000,3000,4000,5000,6000,7000,8000,9000,10000],"labels":false,"title":null}},
     "y":{"field":"v","type":"quantitative","axis":{"orient":"right","values":[100000,1000000,10000000,100000000],"labels":false,"title":null}}
    }}
  ],
  "resolve":{"axis":{"x":"independent","y":"independent"}}
 },
 {"width":639,"height":209,"data":{"name":"angB"},
  "layer":[
   {"mark":{"type":"line","color":"black","strokeJoin":"round"},
    "encoding":{
     "x":{"field":"f","type":"quantitative","scale":{"type":"log","domain":[100,19700],"nice":false},"axis":{"orient":"bottom","values":[100,200,300,400,500,600,700,800,900,1000,2000,3000,4000,5000,6000,7000,8000,9000,10000],"labelExpr":"datum.value == 100 ? '10²' : datum.value == 1000 ? '10³' : datum.value == 10000 ? '10⁴' : ''","labelAlign":"left","labelOffset":-11,"labelBaseline":"alphabetic","labelPadding":32,"title":"FREQUENCY (Hz)","titleBaseline":"alphabetic","titleY":51.5}},
     "y":{"field":"v","type":"quantitative","scale":{"domain":[-0.25,0.25],"nice":false,"zero":false},"axis":{"orient":"left","values":[-0.25,0,0.25],"labelExpr":"datum.value > 0.1 ? '0.25' : datum.value < -0.1 ? '−0.25' : '0'","labelBaseline":"middle","labelPadding":8,"title":"ANGLE (periods)","titleX":-39,"titleBaseline":"alphabetic"}},
     "strokeDash":{"field":"L","type":"ordinal","scale":{"domain":["15 mm","25 mm","40 mm"],"range":[[1,0],[10,8],[1,0]]},"legend":{"orient":"none","legendX":19,"legendY":10,"title":null,"symbolType":"M-1,0M9,0H52","symbolSize":4,"labelOffset":45,"padding":0,"rowPadding":2,"labelFontSize":19,"labelFont":"Liberation Sans","labelColor":"#000","strokeColor":"#000","fillColor":"#fff","symbolStrokeColor":"#000","symbolFillColor":"transparent"}},
     "strokeWidth":{"field":"L","type":"ordinal","scale":{"domain":["15 mm","25 mm","40 mm"],"range":[5.5,1.2],"padding":0},"legend":{"orient":"none","legendX":19,"legendY":10,"title":null,"symbolType":"M-1,0M9,0H52","symbolSize":4,"labelOffset":45,"padding":0,"rowPadding":2,"labelFontSize":19,"labelFont":"Liberation Sans","labelColor":"#000","strokeColor":"#000","fillColor":"#fff","symbolStrokeColor":"#000","symbolFillColor":"transparent"}}
    }},
   {"mark":{"type":"point","opacity":0,"clip":true},
    "encoding":{
     "x":{"field":"f","type":"quantitative","axis":{"orient":"top","values":[100,200,300,400,500,600,700,800,900,1000,2000,3000,4000,5000,6000,7000,8000,9000,10000],"labels":false,"title":null}},
     "y":{"field":"v","type":"quantitative","axis":{"orient":"right","values":[-0.25,0,0.25],"labels":false,"title":null}}
    }}
  ],
  "resolve":{"axis":{"x":"independent","y":"independent"}}
 }
 ]}
]
}
